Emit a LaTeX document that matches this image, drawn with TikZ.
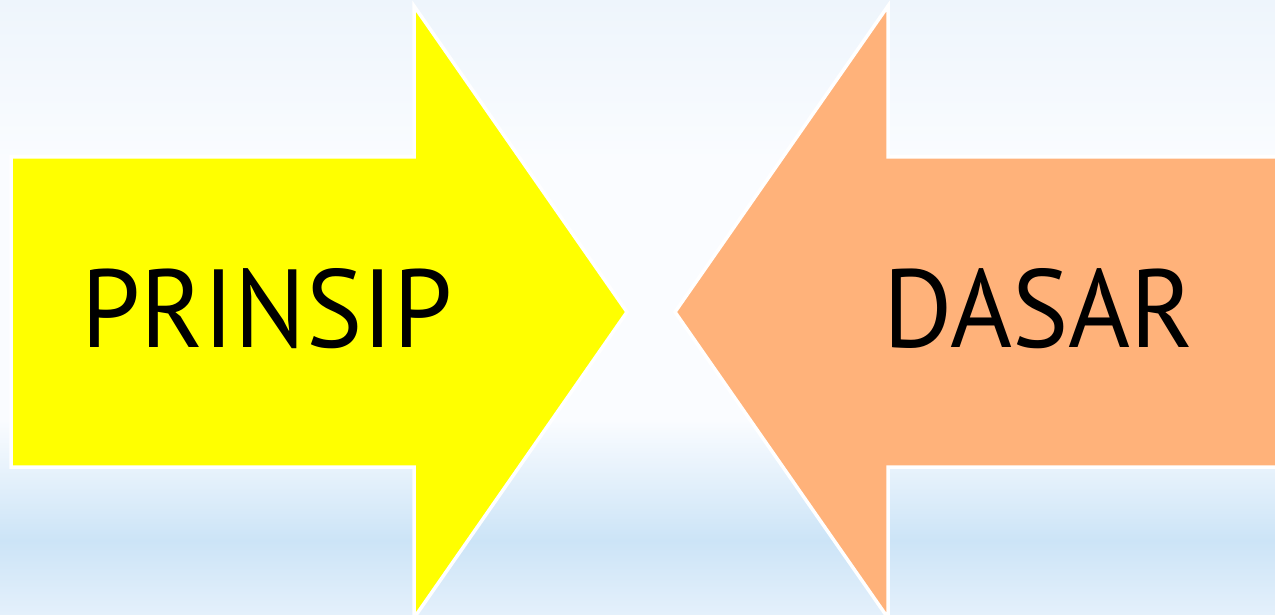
\documentclass[tikz,border=0pt]{standalone}
\usepackage{fontspec}
\setmainfont{PT Sans}
\definecolor{arrowyellow}{RGB}{255,255,0}
\definecolor{arroworange}{RGB}{255,178,122}
\definecolor{bgtop}{RGB}{238,245,252}
\definecolor{bgmid}{RGB}{250,252,255}
\definecolor{bgband}{RGB}{204,228,247}
\definecolor{bgbottom}{RGB}{228,240,251}
\tikzset{
  arrowshape/.style={draw=white, line width=3.5pt, line join=miter},
  label/.style={font=\fontsize{111}{111}\selectfont, text=black, anchor=base, inner sep=0pt, xscale=0.955}
}
\begin{document}
\begin{tikzpicture}[x=1pt,y=-1pt]
\useasboundingbox (0,0) rectangle (1275,615);
\clip (0,0) rectangle (1275,615);
% background
\fill[top color=bgtop, bottom color=bgmid] (0,0) rectangle (1275,160);
\fill[bgmid] (0,159) rectangle (1275,421);
\fill[top color=bgmid, bottom color=bgband] (0,420) rectangle (1275,541);
\fill[top color=bgband, bottom color=bgbottom] (0,540) rectangle (1275,615);
% yellow arrow
\filldraw[arrowshape, fill=arrowyellow]
  (11,157) -- (414,157) -- (414,6) -- (627,312) -- (414,618) -- (414,467) -- (11,467) -- cycle;
% orange arrow
\filldraw[arrowshape, fill=arroworange]
  (1285,157) -- (888,157) -- (888,6) -- (675,312) -- (888,618) -- (888,467) -- (1285,467) -- cycle;
\node[label] (prinsip) at (267,347) {PRINSIP};
\node[label] (dasar) at (1039,347) {DASAR};
\end{tikzpicture}
\end{document}
